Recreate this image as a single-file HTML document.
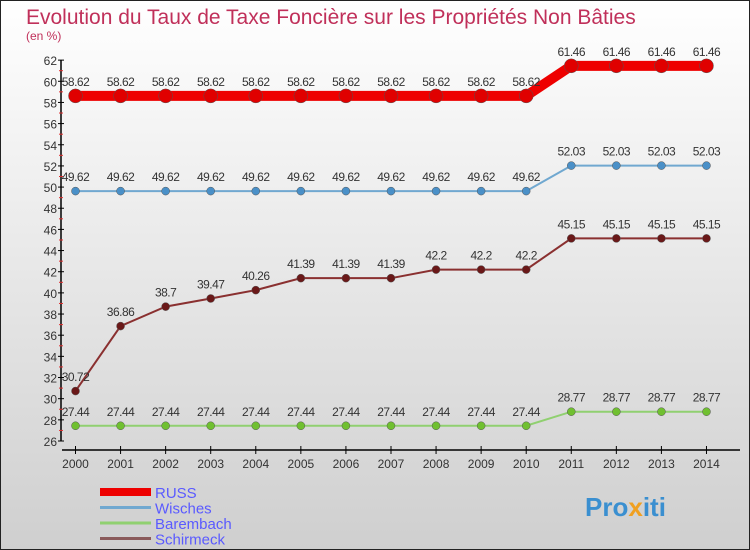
<!DOCTYPE html>
<html><head><meta charset="utf-8"><style>
body{margin:0}
#wrap{width:750px;height:550px;position:relative;overflow:hidden;font-family:"Liberation Sans",sans-serif}
</style></head><body>
<div id="wrap">
<svg id="svg" width="750" height="550" xmlns="http://www.w3.org/2000/svg">
<defs><linearGradient id="bg" x1="0" y1="0" x2="0" y2="1"><stop offset="0" stop-color="#ffffff"/><stop offset="1" stop-color="#cfcfcf"/></linearGradient></defs>
<rect x="0.5" y="0.5" width="749" height="549" fill="url(#bg)" stroke="#222"/>
<text x="26" y="24" font-size="21" fill="#c0305a">Evolution du Taux de Taxe Foncière sur les Propriétés Non Bâties</text>
<text x="26" y="40" font-size="12" fill="#c0305a">(en %)</text>
<g id="axes"></g>
<g id="series"></g>
<g id="legend"></g>
<text x="585" y="516" font-size="26" font-weight="bold" fill="#3a8fd0">Pro<tspan fill="#f0a020">x</tspan>iti</text>
</svg>
</div>
<script>
const years=["2000","2001","2002","2003","2004","2005","2006","2007","2008","2009","2010","2011","2012","2013","2014"];
const yTicks=[26,28,30,32,34,36,38,40,42,44,46,48,50,52,54,56,58,60,62];
const russ=[58.62,58.62,58.62,58.62,58.62,58.62,58.62,58.62,58.62,58.62,58.62,61.46,61.46,61.46,61.46];
const wisches=[49.62,49.62,49.62,49.62,49.62,49.62,49.62,49.62,49.62,49.62,49.62,52.03,52.03,52.03,52.03];
const barembach=[27.44,27.44,27.44,27.44,27.44,27.44,27.44,27.44,27.44,27.44,27.44,28.77,28.77,28.77,28.77];
const schirmeck=[30.72,36.86,38.7,39.47,40.26,41.39,41.39,41.39,42.2,42.2,42.2,45.15,45.15,45.15,45.15];
const seriesNames=["RUSS","Wisches","Barembach","Schirmeck"];
const NS="http://www.w3.org/2000/svg";
function X(i){return 75.5+i*45.07;}
function Y(v){return 441-(v-26)*10.58;}
function mk(tag,attrs,parent){const e=document.createElementNS(NS,tag);for(const k in attrs)e.setAttribute(k,attrs[k]);parent.appendChild(e);return e;}
const axes=document.getElementById('axes');
let yl=mk('line',{x1:61,y1:Y(62),x2:61,y2:Y(26),stroke:'#000','stroke-width':1.5},axes);


yTicks.forEach(v=>{
  mk('line',{x1:58,y1:Y(v),x2:64,y2:Y(v),stroke:'#000'},axes);
  mk('line',{x1:59,y1:Y(v)-10.58,x2:63,y2:Y(v)-10.58,stroke:v<62?'#e03030':'none'},axes);
  const t=mk('text',{x:57,y:Y(v)+5,'text-anchor':'end','font-size':12,fill:'#333'},axes);
  t.textContent=v;
  
  
});
let xl=mk('line',{x1:62,y1:450,x2:740,y2:450,stroke:'#000','stroke-width':1.5},axes);


years.forEach((y,i)=>{
  mk('line',{x1:X(i),y1:446,x2:X(i),y2:454,stroke:'#000'},axes);
  const t=mk('text',{x:X(i),y:468,'text-anchor':'middle','font-size':12,fill:'#333'},axes);
  t.textContent=y;
  
  
});
const sg=document.getElementById('series');
function draw(data,name,color,dot,w,r){
  const g=mk('g',{},sg);
  
  
  const pts=data.map((v,i)=>X(i)+','+Y(v)).join(' ');
  const pl=mk('polyline',{points:pts,fill:'none',stroke:color,'stroke-width':w},g);
  
  
  data.forEach((v,i)=>{
    const c=mk('circle',{cx:X(i),cy:Y(v),r:r,fill:dot,stroke:'#555','stroke-width':0.5},g);
    
    
    const t=mk('text',{x:X(i),y:Y(v)-10,'text-anchor':'middle','font-size':12,fill:'#333','letter-spacing':'-0.5'},g);
    t.textContent=String(v);
    
    
  });
}
draw(barembach,'Barembach','#90d070','#70c030',2,4);
draw(schirmeck,'Schirmeck','#8a3030','#6a1818',2,4);
draw(wisches,'Wisches','#70a8d0','#4a90c8',2,4);
draw(russ,'RUSS','#ee0000','#e00000',10,7);
const lg=document.getElementById('legend');
const lcol=['#ee0000','#70a8d0','#90d070','#8a5a5a'];
const lw=[8,3,3,3];
seriesNames.forEach((n,i)=>{
  const y=492+i*15.5;
  const l=mk('line',{x1:100,y1:y,x2:151,y2:y,stroke:lcol[i],'stroke-width':lw[i]},lg);
  
  
  const t=mk('text',{x:155,y:y+6,'font-size':15,fill:'#5a5aff'},lg);
  t.textContent=n;
  
  
});
</script>
</body></html>
